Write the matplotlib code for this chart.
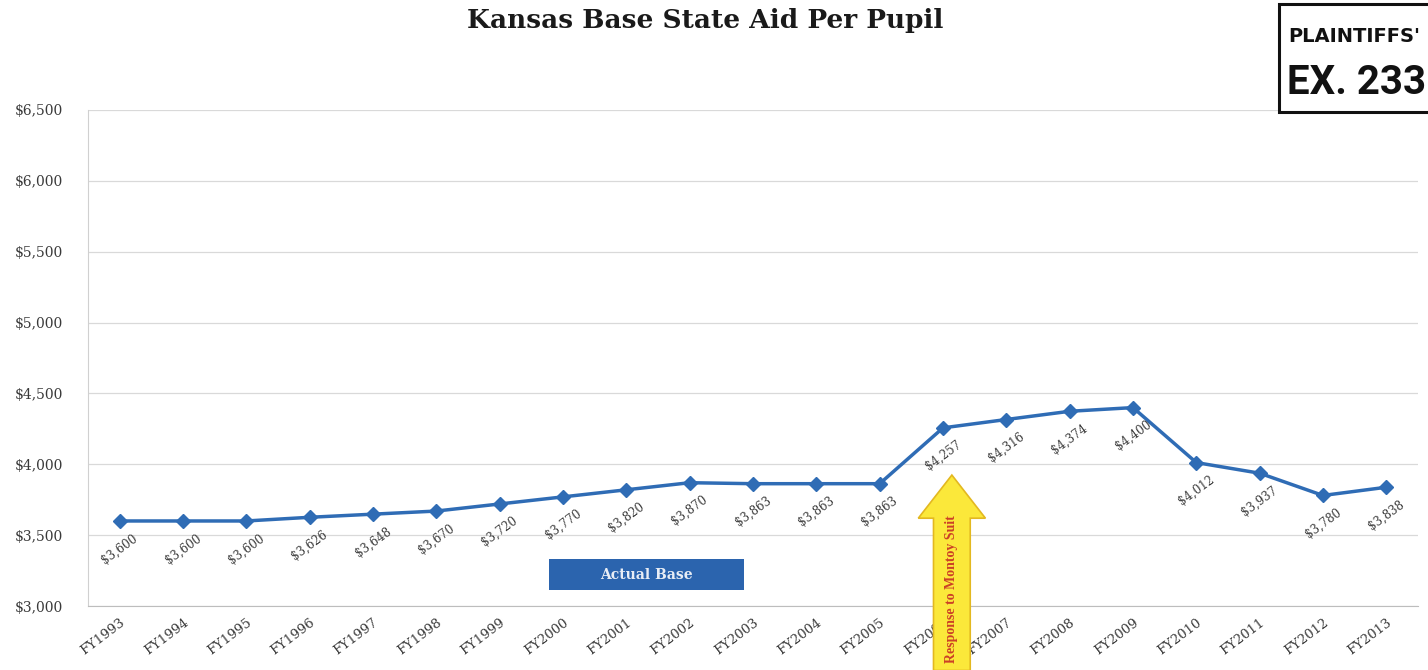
import matplotlib
matplotlib.use("Agg")
import matplotlib.pyplot as plt
from matplotlib.patches import Polygon, Rectangle
from matplotlib.transforms import blended_transform_factory

# --- data --------------------------------------------------------------------
years = [f"FY{y}" for y in range(1993, 2014)]
base_aid = [3600, 3600, 3600, 3626, 3648, 3670, 3720, 3770, 3820, 3870,
            3863, 3863, 3863, 4257, 4316, 4374, 4400, 4012, 3937, 3780, 3838]
y_ticks = [3000, 3500, 4000, 4500, 5000, 5500, 6000, 6500]

LINE_BLUE = "#2f6cb5"
SERIF = "DejaVu Serif"
LABEL_GREY = "#3a3a3a"

fig = plt.figure(figsize=(14.28, 6.7), dpi=100)
ax = fig.add_axes([88 / 1428, 64 / 670, 1330 / 1428, 496 / 670])

x = list(range(len(years)))
ax.plot(x, base_aid, color=LINE_BLUE, lw=2.5, marker="D", ms=7,
        markeredgecolor=LINE_BLUE, zorder=3)

# value labels, tilted under each point
for xi, v in zip(x, base_aid):
    ax.annotate(f"${v:,}", (xi, v), xytext=(0, -20), textcoords="offset points",
                ha="center", va="center", rotation=36, fontsize=8.5,
                family=SERIF, color=LABEL_GREY)

ax.set_xlim(-0.5, len(years) - 0.5)
ax.set_ylim(3000, 6500)
ax.set_yticks(y_ticks)
ax.set_yticklabels([f"${t:,}" for t in y_ticks], family=SERIF, fontsize=10,
                   color=LABEL_GREY)
ax.set_xticks(x)
ax.set_xticklabels(years, rotation=37, ha="right", rotation_mode="anchor",
                   family=SERIF, fontsize=9.5, color=LABEL_GREY)
ax.tick_params(axis="y", length=0, pad=18)
ax.tick_params(axis="x", length=0, pad=7)

ax.grid(axis="y", color="#d9d9d9", lw=0.9)
ax.set_axisbelow(True)
for side in ("top", "right"):
    ax.spines[side].set_visible(False)
ax.spines["left"].set_color("#d0d0d0")
ax.spines["bottom"].set_color("#bdbdbd")

# legend-like label box
trans = blended_transform_factory(ax.transData, ax.transAxes)
ax.add_patch(Rectangle((6.78, 0.032), 3.08, 0.063, transform=trans,
                       facecolor="#2b64ae", edgecolor="none", zorder=4))
ax.text(8.32, 0.0635, "Actual Base", transform=trans, ha="center", va="center",
        color="#e8edf5", fontsize=10, fontweight="bold", family=SERIF,
        zorder=5)

# yellow arrow marking the Montoy response
cx, hw, bw = 13.14, 0.53, 0.29
arrow = Polygon([(cx - bw, -0.13), (cx - bw, 0.177), (cx - hw, 0.177),
                 (cx, 0.264), (cx + hw, 0.177), (cx + bw, 0.177),
                 (cx + bw, -0.13)],
                closed=True, transform=trans, facecolor="#fbe83a",
                edgecolor="#e3b820", lw=1.2, clip_on=False, zorder=6)
ax.add_patch(arrow)
ax.text(cx, 0.035, "Response to Montoy Suit", transform=trans, rotation=90,
        ha="center", va="center", color="#cc4026", fontsize=10,
        family="Liberation Serif", fontweight="bold", zorder=7, clip_on=False)

# title
fig.text(0.494, 0.97, "Kansas Base State Aid Per Pupil", ha="center",
         va="center", fontsize=19, fontweight="bold", family="DejaVu Serif",
         color="#1a1a1a")

# exhibit sticker
fig.patches.append(Rectangle((1279 / 1428, 558 / 670), 0.2, 108 / 670,
                             transform=fig.transFigure, facecolor="white",
                             edgecolor="#111111", lw=2.2, clip_on=False))
fig.text(1288 / 1428, 1 - 37 / 670, "PLAINTIFFS'", ha="left", va="center",
         fontsize=14, fontweight="bold", family="DejaVu Sans", color="#111111")
fig.text(1287 / 1428, 1 - 83 / 670, "EX. 233", ha="left", va="center",
         fontsize=29, fontweight="bold", family="Roboto", color="#111111")

fig.savefig("out.png", dpi=100, facecolor="white")
